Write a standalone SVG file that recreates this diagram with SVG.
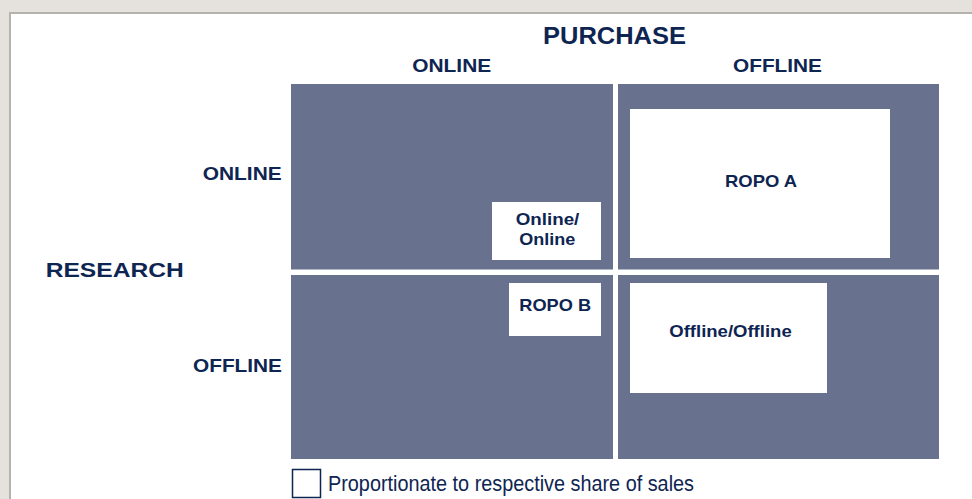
<svg xmlns="http://www.w3.org/2000/svg" width="972" height="499" viewBox="0 0 972 499">
  <style>
    .bg { fill: #e5e1dd; }
    .sheet { fill: #ffffff; stroke: #b6b2ad; stroke-width: 2; }
    .cell { fill: #68728f; }
    .box { fill: #ffffff; }
    .lbl { font-family: "Liberation Sans", Arial, sans-serif; font-weight: bold; fill: #0e2552; }
    .note { font-family: "Liberation Sans", Arial, sans-serif; fill: #0e2552; }
    .key { fill: #ffffff; stroke: #0e2552; stroke-width: 1.5; }
  </style>

  <!-- page background and sheet -->
  <rect class="bg" x="0" y="0" width="972" height="499"/>
  <rect class="sheet" x="10" y="13" width="975" height="500"/>

  <!-- axis headings -->
  <g id="axis-purchase">
    <text class="lbl" x="614.5" y="44.3" font-size="23.5" text-anchor="middle" textLength="143" lengthAdjust="spacingAndGlyphs">PURCHASE</text>
    <text class="lbl" x="451.7" y="71.7" font-size="18.8" text-anchor="middle" textLength="79" lengthAdjust="spacingAndGlyphs">ONLINE</text>
    <text class="lbl" x="777.5" y="72" font-size="18.8" text-anchor="middle" textLength="89" lengthAdjust="spacingAndGlyphs">OFFLINE</text>
  </g>
  <g id="axis-research">
    <text class="lbl" x="45.7" y="276.7" font-size="21" textLength="138" lengthAdjust="spacingAndGlyphs">RESEARCH</text>
    <text class="lbl" x="281.7" y="180" font-size="18" text-anchor="end" textLength="79" lengthAdjust="spacingAndGlyphs">ONLINE</text>
    <text class="lbl" x="282" y="372.3" font-size="18" text-anchor="end" textLength="89" lengthAdjust="spacingAndGlyphs">OFFLINE</text>
  </g>

  <!-- quadrant: online research / online purchase -->
  <g id="q-online-online">
    <rect class="cell" x="291" y="84" width="322" height="185.5"/>
    <rect class="box" x="492" y="202" width="109" height="58"/>
    <text class="lbl" x="547.5" y="225" font-size="16.5" text-anchor="middle" textLength="63.6" lengthAdjust="spacingAndGlyphs">Online/</text>
    <text class="lbl" x="547.3" y="245.3" font-size="16.5" text-anchor="middle" textLength="56" lengthAdjust="spacingAndGlyphs">Online</text>
  </g>

  <!-- quadrant: online research / offline purchase -->
  <g id="q-ropo-a">
    <rect class="cell" x="618" y="84" width="321" height="185.5"/>
    <rect class="box" x="630" y="109" width="260" height="149"/>
    <text class="lbl" x="761" y="187.3" font-size="17" text-anchor="middle" textLength="72" lengthAdjust="spacingAndGlyphs">ROPO A</text>
  </g>

  <!-- quadrant: offline research / online purchase -->
  <g id="q-ropo-b">
    <rect class="cell" x="291" y="275" width="322" height="184"/>
    <rect class="box" x="509" y="283" width="92" height="53"/>
    <text class="lbl" x="555.2" y="311" font-size="17" text-anchor="middle" textLength="71.7" lengthAdjust="spacingAndGlyphs">ROPO B</text>
  </g>

  <!-- quadrant: offline research / offline purchase -->
  <g id="q-offline-offline">
    <rect class="cell" x="618" y="275" width="321" height="184"/>
    <rect class="box" x="630" y="283" width="197" height="110"/>
    <text class="lbl" x="730.5" y="336.7" font-size="16.5" text-anchor="middle" textLength="122.4" lengthAdjust="spacingAndGlyphs">Offline/Offline</text>
  </g>

  <!-- legend -->
  <g id="legend">
    <rect class="key" x="292.5" y="469.5" width="28" height="28"/>
    <text class="note" x="328" y="491" font-size="22.5" textLength="366" lengthAdjust="spacingAndGlyphs">Proportionate to respective share of sales</text>
  </g>

  <g id="connectors"/>
</svg>
